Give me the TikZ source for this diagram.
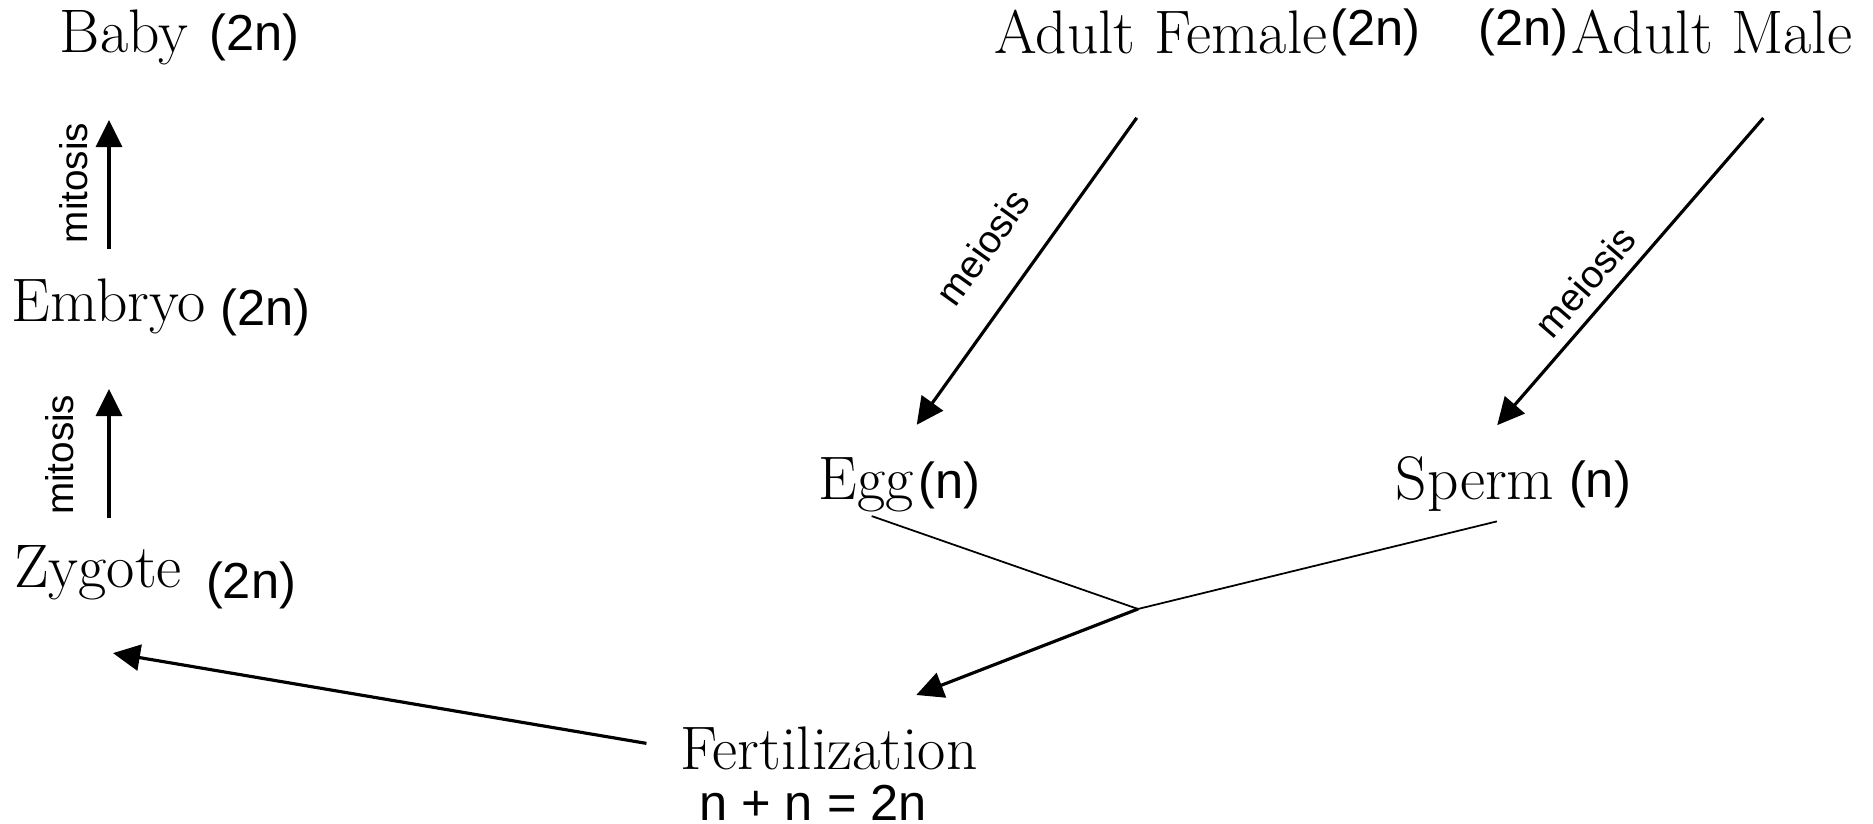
\documentclass[tikz,border=0pt]{standalone}
\usepackage{fontspec}
\usetikzlibrary{positioning, arrows.meta}
\newfontfamily\arialfont{Liberation Sans}

\begin{document}
    \begin{tikzpicture}[inner sep = 0pt, line width = 0.9pt, >={Triangle[length=2.7mm, width=2.6mm]},
        stage/.style = {font=\fontsize{17.5}{20}\selectfont, anchor=base},
        ploidy/.style = {font=\arialfont\fontsize{14.4}{17}\selectfont},
        division/.style = {font=\arialfont\fontsize{11}{13}\selectfont, sloped}]
      \useasboundingbox (0, 0) rectangle (18.73, 8.24);

      \node[stage, label={[ploidy, label distance=5.2pt]right:(2n)}] (baby) at (1.24, 7.71) {Baby};
      \node[stage, label={[ploidy, label distance=3.3pt, yshift=-1.5pt]right:(2n)}] (embryo) at (1.09, 5.02) {Embryo};
      \node[stage, label={[ploidy, label distance=6pt, yshift=-3.4pt]right:(2n)}] (zygote) at (0.98, 2.36) {Zygote};
      \node[stage, label={[ploidy]right:(2n)}] (female) at (11.61, 7.70) {Adult Female};
      \node[stage, label={[ploidy]left:(2n)}] (male) at (17.12, 7.70) {Adult Male};
      \node[stage, label={[ploidy, label distance=0.5pt]right:(n)}] (egg) at (8.66, 3.24) {Egg};
      \node[stage, label={[ploidy, label distance=3.3pt]right:(n)}] (sperm) at (14.75, 3.24) {Sperm};
      \node[stage] (fert) at (8.29, 0.54) {Fertilization};
      \node[ploidy] (sum) [below = 1.2mm of fert, xshift = -1.6mm] {n + n = 2n};
      \coordinate (meet) at (11.38, 2.15);

      \path[->] (embryo.north) edge[shorten <=2.9mm, shorten >=5.3mm] node[division, above=2mm, pos=0.45] {mitosis} (embryo.north |- baby.south);
      \path[->] (embryo.south |- zygote.north) edge[shorten <=2.6mm, shorten >=5.3mm] node[division, above=3.4mm, pos=0.43] {mitosis} (embryo.south);
      \path[->] ([xshift=2mm]female.south) edge[shorten <=7.6mm, shorten >=3.9mm] node[division, above=3.4mm, pos=0.55] {meiosis} ([xshift=2.8mm]egg.north);
      \path[->] ([xshift=10.5mm]male.south) edge[shorten <=8.2mm, shorten >=4mm] node[division, above=1.2mm, pos=0.61] {meiosis} ([xshift=-0.4mm]sperm.north);
      \path[line width=0.5pt] (egg.south) edge[shorten <=0.6mm] (meet);
      \path[line width=0.5pt] ([xshift=5.4mm]sperm.south) edge[shorten <=3.3mm] (meet);
      \path[->] (meet) edge[shorten >=8.5mm] ([xshift=0.8mm]fert.north);
      \path[->] (fert.west) edge[shorten <=3.3mm] ([xshift=1.5mm, yshift=-5.1mm]zygote.south);
    \end{tikzpicture}
\end{document}
